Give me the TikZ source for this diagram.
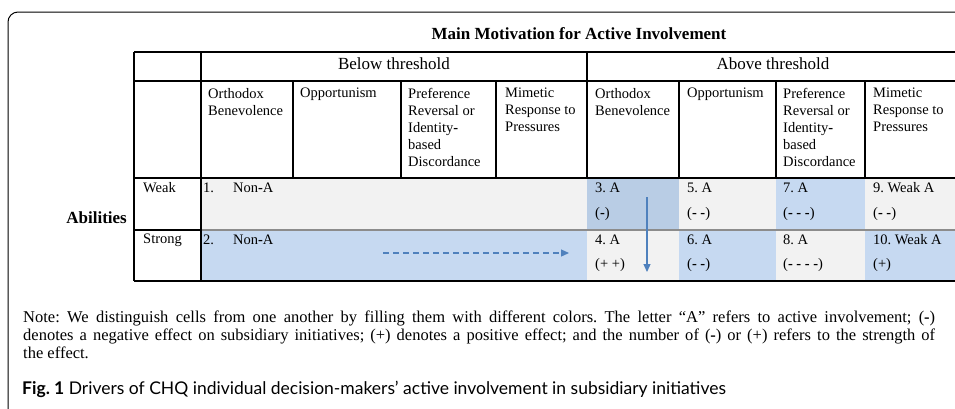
\documentclass[tikz,border=0pt]{standalone}
\usepackage{fontspec}
\setmainfont{Liberation Serif}
\newfontfamily\capfont{Lato}
\usepackage{tikz}
\usetikzlibrary{arrows.meta}
\definecolor{cellgrey}{RGB}{242,242,242}
\definecolor{cellblue}{RGB}{198,217,241}
\definecolor{celldark}{RGB}{185,205,229}
\definecolor{rowline}{RGB}{140,140,140}
\definecolor{arrowblue}{RGB}{79,129,189}

\begin{document}
\frenchspacing
\begin{tikzpicture}[x=1pt,y=-1pt,
  rule/.style={line width=1.6pt},
  headtext/.style={anchor=north west, align=left, inner sep=0pt, font=\fontsize{14.5}{17}\selectfont},
  celltext/.style={anchor=west, inner sep=0pt, font=\fontsize{14.5}{17}\selectfont},
  bigtext/.style={inner sep=0pt, font=\fontsize{17}{20}\selectfont}]
			\useasboundingbox (0,0) rectangle (955,408);
			\clip (0,0) rectangle (955,408);
			% frame
			\draw[line width=1pt, rounded corners=10pt] (8,440) -- (8,12) -- (980,12);
			% cell fills
			\fill[cellgrey] (201,178) rectangle (587,230);
			\fill[celldark] (587,178) rectangle (679,230);
			\fill[cellgrey] (679,178) rectangle (776,230);
			\fill[cellblue] (776,178) rectangle (865,230);
			\fill[cellgrey] (865,178) rectangle (960,230);
			\fill[cellblue] (201,230) rectangle (587,281);
			\fill[cellgrey] (587,230) rectangle (679,281);
			\fill[cellblue] (679,230) rectangle (776,281);
			\fill[cellgrey] (776,230) rectangle (865,281);
			\fill[cellblue] (865,230) rectangle (960,281);
			\draw[rowline, line width=1.4pt] (201,230) -- (960,230);
			% table rules
			\draw[rule] (134,52) -- (960,52);
			\draw[rule] (134,81) -- (960,81);
			\draw[rule] (134,178) -- (960,178);
			\draw[rule] (134,230) -- (201,230);
			\draw[line width=2.2pt] (134,281) -- (960,281);
			\draw[rule] (134,52) -- (134,281);
			\draw[rule] (201,52) -- (201,281);
			\draw[rule] (587,52) -- (587,178);
			\foreach \x in {293,401,496,679,776,865}
				\draw[rule] (\x,81) -- (\x,178);
			% headings
			\node[bigtext, font=\fontsize{17}{20}\selectfont\bfseries] (title) at (579,34) {Main Motivation for Active Involvement};
			\node[bigtext] (below) at (394,64) {Below threshold};
			\node[bigtext] (above) at (773,64) {Above threshold};
			\node[headtext] (hob1) at (208,88) {Orthodox\\Benevolence};
			\node[headtext] (hop1) at (300,88) {Opportunism};
			\node[headtext] (hpr1) at (408,88) {Preference\\Reversal or\\Identity\textbf{-}\\based\\Discordance};
			\node[headtext] (hmi1) at (505,88) {Mimetic\\Response to\\Pressures};
			\node[headtext] (hob2) at (595,88) {Orthodox\\Benevolence};
			\node[headtext] (hop2) at (687,88) {Opportunism};
			\node[headtext] (hpr2) at (783,88) {Preference\\Reversal or\\Identity\textbf{-}\\based\\Discordance};
			\node[headtext] (hmi2) at (873,88) {Mimetic\\Response to\\Pressures};
			% rows
			\node[bigtext, font=\fontsize{17}{20}\selectfont\bfseries, anchor=east] (abil) at (127,218) {Abilities};
			\node[celltext] (weak) at (143,188) {Weak};
			\node[celltext] (strong) at (143,240) {Strong};
			\node[celltext] (c1) at (203,188) {1.\hspace{19pt}Non\textbf{-}A};
			\node[celltext] (c2) at (203,240) {2.\hspace{19pt}Non\textbf{-}A};
			\node[celltext] (c3) at (595,188) {3. A};
			\node[celltext] (f3) at (595,214) {(\textbf{-})};
			\node[celltext] (c4) at (595,240) {4. A};
			\node[celltext] (f4) at (595,265) {(+ +)};
			\node[celltext] (c5) at (687,188) {5. A};
			\node[celltext] (f5) at (687,214) {(\textbf{- -})};
			\node[celltext] (c6) at (687,240) {6. A};
			\node[celltext] (f6) at (687,265) {(\textbf{- -})};
			\node[celltext] (c7) at (783,188) {7. A};
			\node[celltext] (f7) at (783,214) {(\textbf{- - -})};
			\node[celltext] (c8) at (783,240) {8. A};
			\node[celltext] (f8) at (783,265) {(\textbf{- - - -})};
			\node[celltext] (c9) at (873,188) {9. Weak A};
			\node[celltext] (f9) at (873,214) {(\textbf{- -})};
			\node[celltext] (c10) at (873,240) {10. Weak A};
			\node[celltext] (f10) at (873,265) {(+)};
			% arrows
			\coordinate (dstart) at (383,253);
			\coordinate (dend) at (569,253);
			\draw[arrowblue, line width=1.2pt, dash pattern=on 6pt off 4pt, -{Triangle[width=7pt,length=8pt]}] (dstart) -- (dend);
			\coordinate (vstart) at (647,197);
			\coordinate (vend) at (647,272);
			\draw[arrowblue, line width=1.2pt, -{Triangle[width=7pt,length=8pt]}] (vstart) -- (vend);
			% note and caption
			\node[anchor=north west, align=justify, text width=912pt, inner sep=0pt, font=\fontsize{16.5}{18}\selectfont] (note) at (23,311)
				{Note: We distinguish cells from one another by filling them with different colors. The letter “A” refers to active involvement; (\textbf{-})\linebreak
				denotes a negative effect on subsidiary initiatives; (+) denotes a positive effect; and the number of (\textbf{-}) or (+) refers to the strength of\linebreak
				the effect.};
			\node[anchor=west, inner sep=0pt, font=\fontsize{17.5}{20}\capfont] (caption) at (22,389)
				{\textbf{Fig. 1} Drivers of CHQ individual decision-makers’ active involvement in subsidiary initiatives};
		\end{tikzpicture}
\end{document}
